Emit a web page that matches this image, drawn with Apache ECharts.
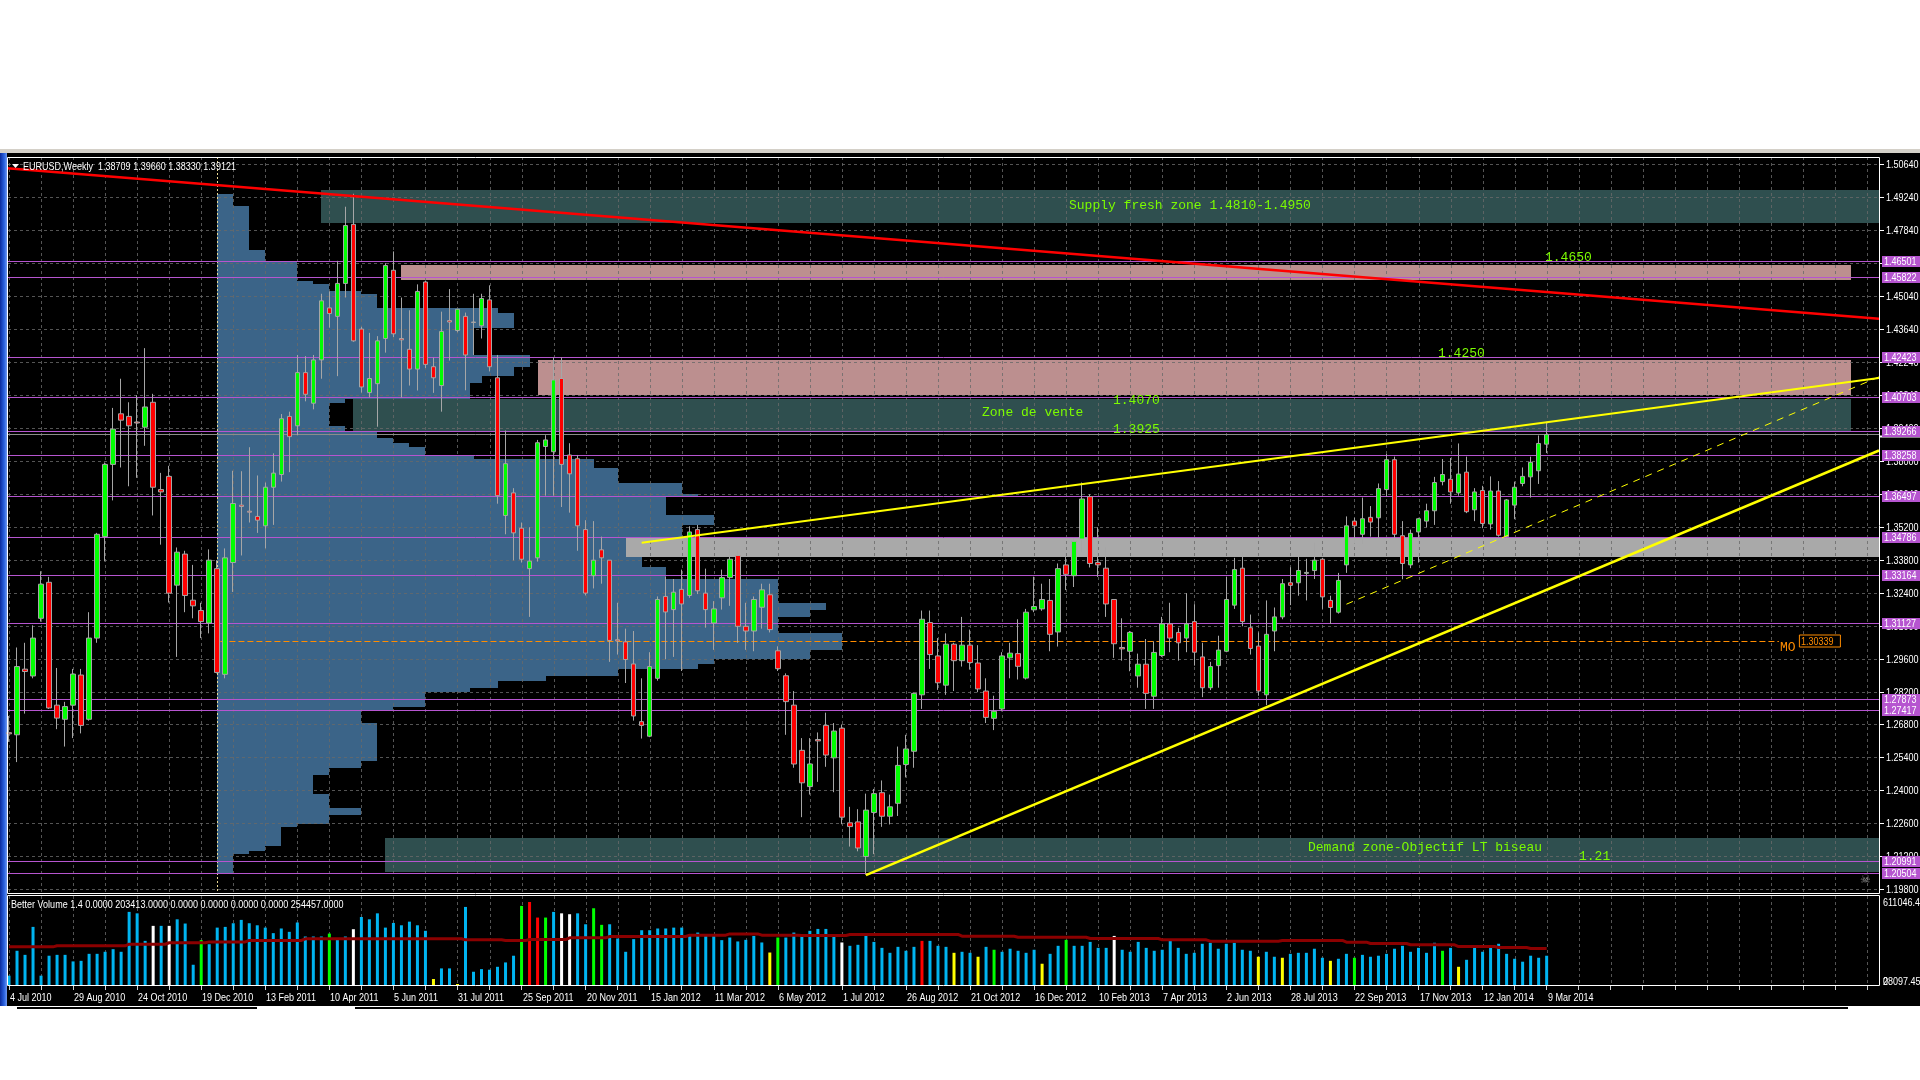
<!DOCTYPE html>
<html><head><meta charset="utf-8">
<script src="https://cdn.jsdelivr.net/npm/echarts/dist/echarts.min.js"></script>
<style>html,body{margin:0;padding:0;background:#fff;}#c{width:1920px;height:1080px;}</style>
</head><body><div id="c"></div>
<script>
// ---------------- DATA ----------------
const tickLabels = ['4 Jul 2010','29 Aug 2010','24 Oct 2010','19 Dec 2010','13 Feb 2011','10 Apr 2011','5 Jun 2011','31 Jul 2011','25 Sep 2011','20 Nov 2011','15 Jan 2012','11 Mar 2012','6 May 2012','1 Jul 2012','26 Aug 2012','21 Oct 2012','16 Dec 2012','10 Feb 2013','7 Apr 2013','2 Jun 2013','28 Jul 2013','22 Sep 2013','17 Nov 2013','12 Jan 2014','9 Mar 2014'];
const priceTicks = [1.198,1.212,1.226,1.240,1.254,1.268,1.282,1.296,1.310,1.324,1.338,1.352,1.366,1.380,1.394,1.408,1.422,1.436,1.450,1.464,1.478,1.492,1.506];
const priceTickLabels = ['1.19800','1.21200','1.22600','1.24000','1.25400','1.26800','1.28200','1.29600','1.31000','1.32400','1.33800','1.35200','1.36640','1.38000','1.39400','1.40840','1.42240','1.43640','1.45040','1.46440','1.47840','1.49240','1.50640'];

const opens = [1.2645,1.2636,1.2915,1.2886,1.3131,1.3284,1.2762,1.2702,1.2762,1.2890,
1.2702,1.3047,1.3478,1.3785,1.4000,1.3989,1.3965,1.3943,1.4049,1.3678,
1.3734,1.3272,1.3404,1.3208,1.3164,1.3111,1.3342,1.2893,1.3368,1.3612,
1.3586,1.3564,1.3524,1.3688,1.3742,1.3989,1.3949,1.4175,1.4045,1.4229,
1.4450,1.4414,1.4554,1.4805,1.4360,1.4090,1.4128,1.4320,1.4610,1.4320,
1.4274,1.4190,1.4560,1.4200,1.4120,1.4396,1.4354,1.4414,1.4390,1.4374,
1.4484,1.4153,1.3568,1.3664,1.3514,1.3342,1.3388,1.3861,1.3839,1.4150,
1.3825,1.3809,1.3508,1.3312,1.3422,1.3378,1.3040,1.3031,1.2937,1.2692,
1.2630,1.2876,1.3224,1.3168,1.3254,1.3228,1.3508,1.3238,1.3111,1.3218,
1.3304,1.3398,1.3097,1.3077,1.3178,1.3231,1.2993,1.2887,1.2762,1.2570,
1.2416,1.2616,1.2676,1.2538,1.2664,1.2262,1.2266,1.2119,1.2306,1.2390,
1.2290,1.2345,1.2510,1.2566,1.2806,1.3113,1.2971,1.2847,1.3021,1.2951,
1.3017,1.2941,1.2822,1.2706,1.2746,1.2963,1.2981,1.2877,1.3167,1.3171,
1.3207,1.3073,1.3358,1.3312,1.3468,1.3648,1.3368,1.3344,1.3211,1.3007,
1.2991,1.2886,1.2936,1.2800,1.2973,1.3107,1.3071,1.3047,1.3117,1.2967,
1.2836,1.2930,1.2991,1.3187,1.3344,1.3091,1.3013,1.2806,1.3077,1.3137,
1.3282,1.3282,1.3322,1.3334,1.3382,1.3207,1.3157,1.3358,1.3544,1.3488,
1.3560,1.3558,1.3678,1.3805,1.3482,1.3358,1.3498,1.3544,1.3588,1.3712,
1.3722,1.3664,1.3752,1.3592,1.3674,1.3532,1.3672,1.3478,1.3612,1.3704,
1.3732,1.3758,1.3871];
const highs = [1.2716,1.3007,1.3027,1.3101,1.3331,1.3307,1.2920,1.2776,1.2916,1.2916,
1.3157,1.3494,1.3793,1.4025,1.4149,1.4049,1.4079,1.4279,1.4085,1.3749,
1.3779,1.3432,1.3418,1.3358,1.3197,1.3424,1.3378,1.3428,1.3758,1.3756,
1.3858,1.3738,1.3708,1.3832,1.3999,1.4009,1.4250,1.4245,1.4250,1.4510,
1.4520,1.4650,1.4880,1.4935,1.4370,1.4344,1.4330,1.4640,1.4690,1.4494,
1.4440,1.4550,1.4566,1.4239,1.4434,1.4530,1.4446,1.4430,1.4510,1.4510,
1.4546,1.4250,1.3929,1.3684,1.3538,1.3518,1.3889,1.3909,1.4240,1.4240,
1.3875,1.3825,1.3548,1.3544,1.3478,1.3378,1.3197,1.3087,1.3077,1.2876,
1.2987,1.3224,1.3308,1.3298,1.3338,1.3522,1.3528,1.3342,1.3204,1.3338,
1.3424,1.3418,1.3197,1.3224,1.3278,1.3278,1.3012,1.2897,1.2822,1.2622,
1.2622,1.2646,1.2730,1.2686,1.2680,1.2330,1.2320,1.2386,1.2406,1.2442,
1.2382,1.2586,1.2636,1.2816,1.3164,1.3164,1.3047,1.3067,1.3027,1.3137,
1.3083,1.3017,1.2876,1.2802,1.2987,1.3027,1.3127,1.3171,1.3308,1.3278,
1.3298,1.3364,1.3408,1.3472,1.3708,1.3658,1.3518,1.3432,1.3211,1.3131,
1.3077,1.2981,1.3043,1.3033,1.3137,1.3197,1.3091,1.3238,1.3191,1.3027,
1.2946,1.3057,1.3308,1.3388,1.3412,1.3147,1.3071,1.3207,1.3177,1.3298,
1.3348,1.3392,1.3384,1.3452,1.3388,1.3227,1.3324,1.3564,1.3558,1.3644,
1.3608,1.3704,1.3829,1.3818,1.3544,1.3508,1.3558,1.3618,1.3732,1.3808,
1.3812,1.3874,1.3818,1.3684,1.3694,1.3734,1.3714,1.3638,1.3712,1.3772,
1.3818,1.3908,1.3966];
const lows = [1.2606,1.2520,1.2726,1.2876,1.3117,1.2746,1.2660,1.2586,1.2622,1.2642,
1.2696,1.3027,1.3373,1.3632,1.3772,1.3692,1.3728,1.3864,1.3568,1.3444,
1.3198,1.2967,1.3157,1.3131,1.3047,1.3067,1.2897,1.2876,1.3243,1.3398,
1.3538,1.3494,1.3428,1.3528,1.3712,1.3752,1.3909,1.4053,1.4019,1.4149,
1.4366,1.4160,1.4494,1.4306,1.4090,1.4070,1.3945,1.4260,1.4326,1.4069,
1.4120,1.4099,1.4194,1.4089,1.4009,1.4226,1.4346,1.4100,1.4250,1.4320,
1.4180,1.3618,1.3488,1.3377,1.3368,1.3137,1.3372,1.3652,1.3652,1.3604,
1.3580,1.3418,1.3228,1.3258,1.3278,1.2946,1.2977,1.2856,1.2696,1.2620,
1.2626,1.2866,1.2957,1.2967,1.2907,1.3218,1.3234,1.3091,1.2997,1.3168,
1.3184,1.3027,1.2997,1.2991,1.3087,1.3071,1.2907,1.2636,1.2496,1.2286,
1.2382,1.2436,1.2500,1.2392,1.2256,1.2161,1.2141,1.2042,1.2129,1.2245,
1.2255,1.2291,1.2455,1.2496,1.2746,1.2916,1.2827,1.2806,1.2822,1.2926,
1.2913,1.2817,1.2686,1.2656,1.2736,1.2876,1.2871,1.2871,1.3157,1.3163,
1.2991,1.3011,1.3251,1.3264,1.3412,1.3347,1.3307,1.3137,1.2963,1.2951,
1.2906,1.2836,1.2746,1.2746,1.2967,1.2987,1.2951,1.2987,1.2930,1.2796,
1.2826,1.2836,1.2987,1.3171,1.3097,1.2977,1.2802,1.2762,1.2991,1.3127,
1.3187,1.3227,1.3207,1.3298,1.3171,1.3107,1.3151,1.3324,1.3448,1.3448,
1.3478,1.3468,1.3648,1.3472,1.3297,1.3344,1.3368,1.3518,1.3528,1.3696,
1.3618,1.3652,1.3578,1.3544,1.3514,1.3508,1.3478,1.3474,1.3552,1.3692,
1.3644,1.3702,1.3833];
const closes = [1.2640,1.2926,1.2905,1.3047,1.3276,1.2750,1.2707,1.2756,1.2894,1.2676,
1.3047,1.3488,1.3785,1.3935,1.3973,1.3949,1.3961,1.4029,1.3688,1.3668,
1.3238,1.3412,1.3228,1.3184,1.3117,1.3378,1.2901,1.3388,1.3619,1.3606,
1.3582,1.3548,1.3688,1.3748,1.3979,1.3903,1.4175,1.4083,1.4229,1.4480,
1.4426,1.4554,1.4800,1.4310,1.4114,1.4150,1.4310,1.4630,1.4340,1.4314,
1.4190,1.4520,1.4210,1.4153,1.4350,1.4390,1.4444,1.4250,1.4388,1.4490,
1.4200,1.3652,1.3788,1.3494,1.3382,1.3374,1.3877,1.3889,1.4144,1.3785,
1.3745,1.3524,1.3238,1.3378,1.3388,1.3037,1.3035,1.2956,1.2716,1.2676,
1.2926,1.3211,1.3158,1.3242,1.3192,1.3498,1.3248,1.3168,1.3171,1.3304,
1.3382,1.3097,1.3077,1.3211,1.3252,1.3083,1.2917,1.2777,1.2512,1.2432,
1.2512,1.2610,1.2550,1.2652,1.2286,1.2246,1.2155,1.2316,1.2386,1.2290,
1.2330,1.2506,1.2576,1.2812,1.3127,1.2977,1.2857,1.3021,1.2951,1.3017,
1.2943,1.2831,1.2710,1.2736,1.2971,1.2983,1.2927,1.3157,1.3181,1.3211,
1.3063,1.3342,1.3318,1.3458,1.3638,1.3364,1.3358,1.3192,1.3023,1.3001,
1.3071,1.2936,1.2812,1.2986,1.3107,1.3047,1.3027,1.3107,1.2987,1.2836,
1.2926,1.2996,1.3211,1.3338,1.3117,1.3003,1.2822,1.3063,1.3137,1.3278,
1.3271,1.3334,1.3326,1.3378,1.3222,1.3177,1.3292,1.3524,1.3524,1.3554,
1.3540,1.3682,1.3805,1.3488,1.3364,1.3492,1.3554,1.3588,1.3708,1.3742,
1.3668,1.3744,1.3584,1.3668,1.3534,1.3672,1.3484,1.3634,1.3688,1.3734,
1.3794,1.3874,1.3912];

// volume in thousands
const volumes = [64,235,207,399,64,201,207,207,162,166,
214,214,228,246,228,502,492,303,406,406,
406,451,422,139,308,280,394,399,424,447,
424,410,394,356,388,365,429,333,333,333,
353,315,333,383,467,451,492,394,426,410,
435,410,372,41,114,114,7,536,91,109,
105,125,155,201,543,570,463,463,502,492,
486,492,417,527,413,417,319,228,315,376,
376,388,388,394,394,349,360,344,344,308,
326,299,310,337,292,223,326,326,360,344,
372,385,385,331,292,269,276,337,296,255,
221,262,235,262,303,303,269,262,221,228,
221,194,262,242,228,249,235,221,242,146,
214,269,310,269,269,296,255,255,337,242,
228,296,255,235,242,303,255,214,221,283,
290,249,283,290,242,235,194,228,194,187,
214,221,221,249,187,166,180,214,187,207,
194,201,214,249,269,228,255,221,290,235,
255,125,173,255,228,255,283,214,180,160,
201,187,201];
const volWhite = [18,20,43,69,70,104,138];
const volGreen = [24,40,64,67,73,74,96,123,132,168,179];
const volRed = [65,66,114];
const volYellow = [53,56,95,118,121,129,156,159,165,181];
const volMA = [262,262,262,262,262,262,
269,269,269,269,269,269,269,269,269,
280,280,280,280,280,
290,290,290,290,290,
296,296,296,296,296,
306,306,306,306,306,306,306,
317,317,317,317,317,317,317,317,317,317,317,317,317,317,317,317,317,317,317,317,
310,310,310,310,310,
306,306,306,
312,312,312,312,312,
324,324,324,324,324,
333,333,333,333,333,333,333,333,333,333,
342,342,342,342,342,
351,351,351,351,
342,342,342,342,342,
340,340,340,340,340,340,
347,347,347,347,347,347,347,347,347,347,347,347,347,347,
335,335,335,335,335,335,335,
328,328,328,328,328,328,328,328,328,
319,319,319,319,319,319,319,319,319,
310,310,310,310,310,310,
301,301,301,301,301,301,301,301,301,
306,306,306,306,306,306,306,306,
294,294,294,
285,285,285,285,285,
276,276,276,276,276,276,
264,264,264,264,264,
258,258,258,258,
251,251,251];

// volume profile (price band top / bottom, end in weeks)
const profileStartWeek = 26;
const profileTop = [1.4935,1.4881,1.4694,1.4646,1.4566,1.4550,1.4520,1.4510,1.4450,1.4430,1.4366,1.4249,1.4199,1.4159,1.4129,1.4065,1.4045,1.3949,1.3923,1.3899,1.3878,1.3858,1.3824,1.3808,1.3768,1.3708,1.3658,1.3648,1.3568,1.3528,1.3478,1.3387,1.3347,1.3297,1.3197,1.3167,1.3137,1.3067,1.2997,1.2956,1.2936,1.2916,1.2886,1.2866,1.2836,1.2816,1.2756,1.2736,1.2686,1.2526,1.2495,1.2465,1.2385,1.2325,1.2295,1.2255,1.2245,1.2165,1.2141,1.2129];
const profileBottom = [1.4881,1.4694,1.4646,1.4566,1.4550,1.4520,1.4510,1.4450,1.4430,1.4366,1.4249,1.4199,1.4159,1.4129,1.4065,1.4045,1.3949,1.3923,1.3899,1.3878,1.3858,1.3824,1.3808,1.3768,1.3708,1.3658,1.3648,1.3568,1.3528,1.3478,1.3387,1.3347,1.3297,1.3197,1.3167,1.3137,1.3067,1.2997,1.2956,1.2936,1.2916,1.2886,1.2866,1.2836,1.2816,1.2756,1.2736,1.2686,1.2526,1.2495,1.2465,1.2385,1.2325,1.2295,1.2255,1.2245,1.2165,1.2141,1.2129,1.2048];
const profileEnd = [28,30,32,36,38,40,44,46,61,63,58,65,63,59,57.6,42,40,42,46,48,50,52,58,73,76,84,86,82,88,84,79,79,82,96,102,100,96,104,100,88,86,76,67,61,57.6,52,48,44,46,44,40,38,40,44,40,36,34,32,30,28];

// zones
const zoneKind = ['teal','pink','pink','teal','gray','teal'];
const zoneStart = [39,49,66,43,77,47];
const zoneEnd = [233.5,230,230,230,233.5,233.5];
const zoneTop = [1.4951,1.4634,1.4229,1.4065,1.3474,1.2199];
const zoneBottom = [1.4810,1.4570,1.4079,1.3922,1.3392,1.2055];

// horizontal levels
const levelPrices = [1.46501,1.45822,1.42423,1.40703,1.39266,1.38258,1.36497,1.34786,1.33164,1.31127,1.27873,1.27417,1.20991,1.20504];
const levelLabels = ['1.46501','1.45822','1.42423','1.40703','1.39266','1.38258','1.36497','1.34786','1.33164','1.31127','1.27873','1.27417','1.20991','1.20504'];
const bidPrice = 1.39121;
const moPrice = 1.30339, moStart = 26.4, moEnd = 221;

// trend lines
const trendKind = ['red','yellow','yellowThick','yellowDash'];
const trendX1 = [-0.2,79,107,167];
const trendP1 = [1.5043,1.3452,1.2040,1.3191];
const trendX2 = [233.5,233.5,233.5,233.5];
const trendP2 = [1.4404,1.4152,1.3844,1.4157];

// chart texts
const noteTexts = ['Supply fresh zone 1.4810-1.4950','1.4650','1.4250','Zone de vente','1.4070','1.3925','Demand zone-Objectif LT biseau','1.21'];
const noteWeek = [132.4,191.75,178.4,121.5,137.9,137.9,162.25,196];
const notePrice = [1.4885,1.4664,1.4255,1.4003,1.4055,1.3932,1.2155,1.2115];

// ---------------- CHART ----------------
const SANS = "'Liberation Sans', Arial, sans-serif";
const NARROW_SCALE = 0.82;
const MONO = "'Liberation Mono','Courier New',monospace";
const N_SLOTS = 234;
const cats = Array.from({length: N_SLOTS}, (_, i) => String(i));
const zoneColors = {teal: '#2f4f4f', pink: '#bc8f8f', gray: '#a9a9a9'};
const PURPLE = '#b655d0';
const X_LEFT = 8, X_RIGHT = 1879;

function volColor(i) {
  if (volWhite.includes(i)) return '#ffffff';
  if (volGreen.includes(i)) return '#00ff00';
  if (volRed.includes(i)) return '#ff0000';
  if (volYellow.includes(i)) return '#ffff00';
  return '#00b4f0';
}
function cx(v) { return Math.round(v) + 0.5; }
function ntext(x, y, text, fill, z) {
  const el = {type: 'text', x: x, y: y, scaleX: NARROW_SCALE,
    style: {text: text, fill: fill, font: '11px ' + SANS, textVerticalAlign: 'middle', textAlign: 'left'}};
  if (z !== undefined) el.z = z;
  return el;
}
function custom(gi, data, renderItem, z, clip) {
  return {type: 'custom', xAxisIndex: gi === 0 ? 2 : 3, yAxisIndex: gi, data, renderItem, z, silent: true, clip: !!clip, animation: false};
}

const vGridWeeks = [];
for (let w = 0; w < N_SLOTS; w += 4) vGridWeeks.push(w);
const labelWeeks = tickLabels.map((_, k) => k * 8);

const chart = echarts.init(document.getElementById('c'), null, {width: 1920, height: 1080});

const option = {
  animation: false,
  backgroundColor: '#ffffff',
  grid: [
    {left: 5, top: 157, width: 1874, height: 736},
    {left: 5, top: 896, width: 1874, height: 89}
  ],
  xAxis: [
    {type: 'category', gridIndex: 0, data: cats, axisLine: {show: false}, axisTick: {show: false}, axisLabel: {show: false}, splitLine: {show: false}},
    {type: 'category', gridIndex: 1, data: cats, axisLine: {show: false},
      axisTick: {show: true, alignWithLabel: true, interval: 3, length: 5, lineStyle: {color: '#d0d0d0'}},
      axisLabel: {show: false}, splitLine: {show: false}},
    {type: 'value', gridIndex: 0, min: -0.5, max: N_SLOTS - 0.5, show: false},
    {type: 'value', gridIndex: 1, min: -0.5, max: N_SLOTS - 0.5, show: false}
  ],
  yAxis: [
    {type: 'value', gridIndex: 0, min: 1.19638, max: 1.50912, show: false, splitLine: {show: false}},
    {type: 'value', gridIndex: 1, min: 0, max: 611.046, show: false, splitLine: {show: false}}
  ],
  graphic: [
    {type: 'rect', shape: {x: 0, y: 149, width: 1920, height: 4}, style: {fill: '#d4d0c8'}, z: -20},
    {type: 'rect', shape: {x: 0, y: 153, width: 1920, height: 853}, style: {fill: '#000000'}, z: -20},
    {type: 'rect', shape: {x: 0, y: 153, width: 7, height: 853},
      style: {fill: new echarts.graphic.LinearGradient(0, 0, 1, 0, [{offset: 0, color: '#0a2a9c'}, {offset: 0.6, color: '#2a62e0'}, {offset: 1, color: '#6f98f0'}])}, z: -19},
    {type: 'rect', shape: {x: 7.5, y: 157.5, width: 1872, height: 736}, style: {fill: null, stroke: '#ffffff', lineWidth: 1}, z: 50},
    {type: 'rect', shape: {x: 7.5, y: 895.5, width: 1872, height: 90}, style: {fill: null, stroke: '#ffffff', lineWidth: 1}, z: 50},
    {type: 'rect', shape: {x: 17, y: 1007, width: 240, height: 2}, style: {fill: '#000000'}, z: -20},
    {type: 'rect', shape: {x: 355, y: 1007, width: 1493, height: 2}, style: {fill: '#000000'}, z: -20},
    {type: 'polygon', shape: {points: [[12, 164], [19, 164], [15.5, 168]]}, style: {fill: '#ffffff'}, z: 60},
    ntext(23, 167, 'EURUSD,Weekly  1.38709 1.39660 1.38330 1.39121', '#ffffff', 60),
    ntext(11, 905, 'Better Volume 1.4 0.0000 203413.0000 0.0000 0.0000 0.0000 0.0000 254457.0000', '#ffffff', 60),
    ntext(1883, 903, '611046.4', '#ffffff', 60),
    ntext(1883, 982, '28097.45', '#ffffff', 60),
    ntext(1883, 982, '0', '#ffffff', 60),
    {type: 'text', x: 1860, y: 880, style: {text: '\u2620', fill: '#8a8a8a', font: '12px DejaVu Sans', textVerticalAlign: 'middle'}, z: 60}
  ],
  series: [
    // volume profile
    custom(0, profileTop.map((t, i) => [profileStartWeek, t, profileBottom[i], profileEnd[i]]), (params, api) => {
      const p1 = api.coord([api.value(0), api.value(1)]);
      const p2 = api.coord([api.value(3), api.value(2)]);
      const y1 = Math.round(p1[1]), y2 = Math.round(p2[1]);
      return {type: 'rect', shape: {x: Math.round(p1[0]), y: y1, width: Math.round(p2[0]) - Math.round(p1[0]), height: y2 - y1}, style: {fill: '#3b6488'}};
    }, 2),
    // zones
    custom(0, zoneStart.map((s, i) => [s, zoneTop[i], zoneEnd[i], zoneBottom[i]]), (params, api) => {
      const p1 = api.coord([api.value(0), api.value(1)]);
      const p2 = api.coord([api.value(2), api.value(3)]);
      const y1 = Math.round(p1[1]), y2 = Math.round(p2[1]);
      return {type: 'rect', shape: {x: Math.round(p1[0]), y: y1, width: Math.round(p2[0]) - Math.round(p1[0]), height: y2 - y1},
        style: {fill: zoneColors[zoneKind[params.dataIndex]]}};
    }, 2),
    // horizontal grid
    custom(0, priceTicks.map(p => [0, p]), (params, api) => {
      const y = cx(api.coord([0, api.value(1)])[1]);
      return {type: 'line', shape: {x1: X_LEFT, y1: y, x2: X_RIGHT, y2: y}, style: {stroke: 'rgba(105,105,105,0.8)', lineWidth: 1, lineDash: [3, 3]}};
    }, 3),
    // vertical grid main
    custom(0, vGridWeeks.map(w => [w, 1.3]), (params, api) => {
      const x = cx(api.coord([api.value(0), 1.3])[0]);
      const cs = params.coordSys;
      return {type: 'line', shape: {x1: x, y1: cs.y, x2: x, y2: cs.y + cs.height}, style: {stroke: 'rgba(105,105,105,0.8)', lineWidth: 1, lineDash: [3, 3]}};
    }, 3),
    // vertical grid volume
    custom(1, vGridWeeks.map(w => [w, 0]), (params, api) => {
      const x = cx(api.coord([api.value(0), 0])[0]);
      const cs = params.coordSys;
      return {type: 'line', shape: {x1: x, y1: cs.y, x2: x, y2: cs.y + cs.height}, style: {stroke: 'rgba(105,105,105,0.8)', lineWidth: 1, lineDash: [3, 3]}};
    }, 3),
    // time axis labels
    custom(1, labelWeeks.map(w => [w, 0]), (params, api) => {
      const p = api.coord([api.value(0), 0]);
      return ntext(Math.round(p[0]) + 1, 998, tickLabels[params.dataIndex], '#ffffff');
    }, 8, false),
    // profile start dotted line
    custom(0, [[profileStartWeek, 1.3]], (params, api) => {
      const x = cx(api.coord([api.value(0), 1.3])[0]);
      const cs = params.coordSys;
      return {type: 'line', shape: {x1: x, y1: cs.y, x2: x, y2: cs.y + cs.height}, style: {stroke: '#e8d690', lineWidth: 1, lineDash: [2, 2]}};
    }, 3),
    // purple level lines
    custom(0, levelPrices.map(p => [0, p]), (params, api) => {
      const y = cx(api.coord([0, api.value(1)])[1]);
      return {type: 'line', shape: {x1: X_LEFT, y1: y, x2: X_RIGHT, y2: y}, style: {stroke: PURPLE, lineWidth: 1}};
    }, 4),
    // bid line
    custom(0, [[0, bidPrice]], (params, api) => {
      const y = cx(api.coord([0, api.value(1)])[1]);
      return {type: 'group', children: [
        {type: 'line', shape: {x1: X_LEFT, y1: y, x2: X_RIGHT, y2: y}, style: {stroke: '#8c8c8c', lineWidth: 1}},
        {type: 'rect', shape: {x: 1880, y: y + 1, width: 40, height: 2}, style: {fill: '#ffffff'}}
      ]};
    }, 4, false),
    // MO line
    custom(0, [[moStart, moPrice, moEnd]], (params, api) => {
      const p1 = api.coord([api.value(0), api.value(1)]);
      const p2 = api.coord([api.value(2), api.value(1)]);
      const y = cx(p1[1]);
      return {type: 'group', children: [
        {type: 'line', shape: {x1: p1[0], y1: y, x2: p2[0], y2: y}, style: {stroke: '#ff8c00', lineWidth: 1, lineDash: [6, 3]}},
        {type: 'text', x: p2[0] + 1, y: y + 6, style: {text: 'MO', fill: '#ff8c00', font: '13px ' + MONO, textVerticalAlign: 'middle'}},
        {type: 'rect', shape: {x: p2[0] + 20.5, y: y - 6.5, width: 41, height: 12}, style: {fill: '#000000', stroke: '#ff8c00', lineWidth: 1}},
        {type: 'text', x: p2[0] + 22, y: y, scaleX: NARROW_SCALE, style: {text: moPrice.toFixed(5), fill: '#ff8c00', font: '11px ' + SANS, textVerticalAlign: 'middle'}}
      ]};
    }, 4),
    // candles
    {type: 'candlestick', xAxisIndex: 0, yAxisIndex: 0, barWidth: 5, z: 5,
      data: opens.map((o, i) => [o, closes[i], lows[i], highs[i]]),
      itemStyle: {color: '#00ff00', color0: '#ff0000', borderColor: '#a6a6a6', borderColor0: '#a6a6a6', borderColorDoji: '#a6a6a6', borderWidth: 1},
      silent: true},
    // trend lines
    custom(0, trendX1.map((x, i) => [x, trendP1[i], trendX2[i], trendP2[i]]), (params, api) => {
      const p1 = api.coord([api.value(0), api.value(1)]);
      const p2 = api.coord([api.value(2), api.value(3)]);
      const k = trendKind[params.dataIndex];
      const st = {red: {stroke: '#ff0000', lineWidth: 2.5}, yellow: {stroke: '#ffff00', lineWidth: 2},
        yellowThick: {stroke: '#ffff00', lineWidth: 2.5}, yellowDash: {stroke: '#ffff00', lineWidth: 1, lineDash: [7, 6]}}[k];
      return {type: 'line', shape: {x1: p1[0], y1: p1[1], x2: p2[0], y2: p2[1]}, style: st};
    }, 6),
    // notes
    custom(0, noteWeek.map((w, i) => [w, notePrice[i]]), (params, api) => {
      const p = api.coord([api.value(0), api.value(1)]);
      return {type: 'text', x: Math.round(p[0]), y: Math.round(p[1]),
        style: {text: noteTexts[params.dataIndex], fill: '#7cfc00', font: '13px ' + MONO, textVerticalAlign: 'middle'}};
    }, 7),
    // price tick labels
    custom(0, priceTicks.map(p => [0, p]), (params, api) => {
      const y = cx(api.coord([0, api.value(1)])[1]);
      return {type: 'group', children: [
        {type: 'line', shape: {x1: 1880, y1: y, x2: 1884, y2: y}, style: {stroke: '#ffffff', lineWidth: 1}},
        ntext(1886, y, priceTickLabels[params.dataIndex], '#ffffff')
      ]};
    }, 8, false),
    // level labels
    custom(0, levelPrices.map(p => [0, p]), (params, api) => {
      const y = Math.round(api.coord([0, api.value(1)])[1]);
      return {type: 'group', children: [
        {type: 'rect', shape: {x: 1882, y: y - 5, width: 38, height: 11}, style: {fill: PURPLE}},
        ntext(1884, y + 0.5, levelLabels[params.dataIndex], '#ffffff')
      ]};
    }, 9, false),
    // volume bars
    {type: 'bar', xAxisIndex: 1, yAxisIndex: 1, barWidth: 3, z: 5, silent: true,
      data: volumes.map((v, i) => ({value: v, itemStyle: {color: volColor(i)}}))},
    // volume average
    {type: 'line', xAxisIndex: 1, yAxisIndex: 1, data: volMA, step: 'middle', symbol: 'none', showSymbol: false, z: 6, silent: true,
      lineStyle: {color: '#8b0000', width: 3}}
  ]
};
chart.setOption(option);
</script></body></html>
